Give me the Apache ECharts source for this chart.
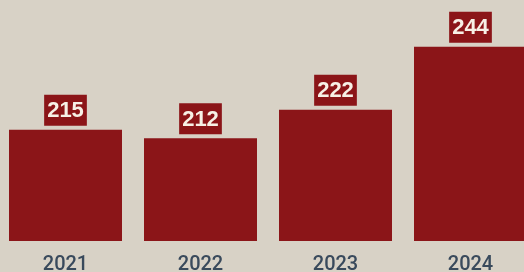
<!DOCTYPE html>
<html>
<head>
<meta charset="utf-8">
<script src="https://cdn.jsdelivr.net/npm/echarts@6/dist/echarts.min.js"></script>
<style>
  html, body { margin: 0; padding: 0; background: #d8d2c6; }
  #chart { width: 524px; height: 272px; }
</style>
</head>
<body>
<div id="chart"></div>
<script>
const years = ["2021", "2022", "2023", "2024"];
const counts = [215, 212, 222, 244];

const chart = echarts.init(document.getElementById("chart"));

const option = {
  backgroundColor: "#d8d2c6",
  animation: false,
  grid: { left: -2, width: 540, top: 24, bottom: 31, outerBoundsMode: "none" },
  xAxis: {
    type: "category",
    data: years,
    axisLine: { show: false },
    axisTick: { show: false },
    axisLabel: {
      margin: 14,
      color: "#394a5c",
      fontSize: 20,
      fontWeight: 500,
      fontFamily: "Roboto, 'Noto Sans', sans-serif",
    },
  },
  yAxis: {
    type: "value",
    min: 176,
    max: 252,
    show: false,
    splitLine: { show: false },
  },
  series: [
    {
      type: "bar",
      data: counts,
      barWidth: 113,
      itemStyle: { color: "#8b1518" },
      label: {
        show: true,
        position: "top",
        distance: 4,
        color: "#f7f0e6",
        fontSize: 22,
        fontWeight: "bold",
        fontFamily: "'Liberation Sans', Arial, sans-serif",
        backgroundColor: "#8b1518",
        lineHeight: 25,
        padding: [4, 3, 2, 3],
      },
    },
  ],
};

chart.setOption(option);
</script>
</body>
</html>
